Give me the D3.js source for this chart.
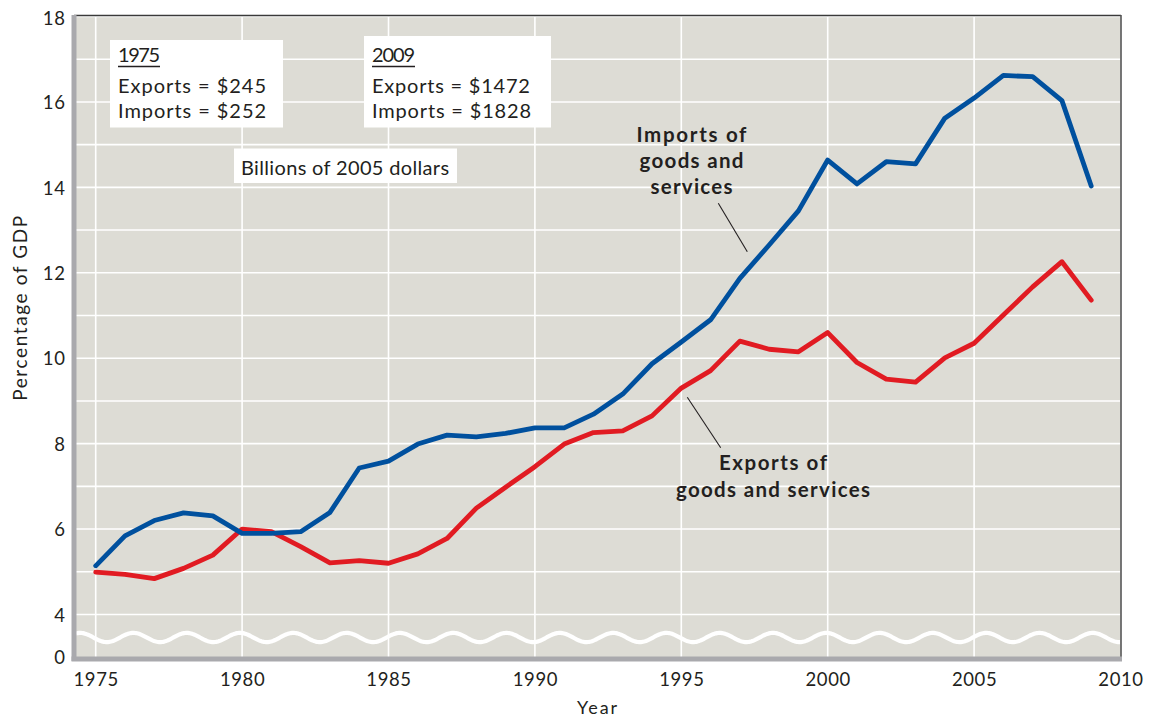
<!DOCTYPE html>
<html><head><meta charset="utf-8">
<script src="https://cdn.jsdelivr.net/npm/d3@7"></script>
<style>
html,body{margin:0;padding:0;background:#fff;}
svg{display:block;font-family:Lato,"Open Sans",sans-serif;}
</style></head>
<body>
<svg id="c" width="1149" height="718"></svg>
<script>
const years = d3.range(1975, 2010);
const imports = [5.14,5.84,6.20,6.38,6.31,5.90,5.90,5.94,6.39,7.43,7.59,7.99,8.20,8.16,8.24,8.37,8.37,8.69,9.16,9.87,10.38,10.90,11.87,12.65,13.45,14.64,14.08,14.60,14.55,15.62,16.09,16.62,16.59,16.03,14.03];
const exportsS = [4.99,4.94,4.84,5.08,5.39,6.00,5.94,5.59,5.21,5.26,5.20,5.42,5.78,6.49,6.98,7.46,7.99,8.26,8.30,8.65,9.30,9.71,10.40,10.21,10.15,10.60,9.90,9.51,9.44,10.01,10.35,11.01,11.67,12.26,11.36];
const xTicks = [1975,1980,1985,1990,1995,2000,2005,2010];
const yTicks = [0,4,6,8,10,12,14,16,18];
const yGrid = d3.range(4, 19);
const box1975 = ["1975","Exports = $245","Imports = $252"];
const box2009 = ["2009","Exports = $1472","Imports = $1828"];
const unitsNote = "Billions of 2005 dollars";
const importsLabel = ["Imports of","goods and","services"];
const exportsLabel = ["Exports of","goods and services"];

const svg = d3.select("#c");
const L = 76, R = 1120.5, T = 16, B = 659;
const x = d3.scaleLinear().domain([1975, 2010]).range([95.7, 1120.5]);
const y = d3.scaleLinear().domain([0, 4, 18]).range([659, 614.5, 16.5]);
const INK = "#231f20";

// stretch tracking so a text spans a given width
function fit(sel, target) {
  const n = sel.text().length;
  const w = sel.node().getComputedTextLength();
  if (n > 1) sel.attr("letter-spacing", ((target - w) / (n - 1)).toFixed(2));
  return sel;
}

// plot background
svg.append("rect").attr("x", L).attr("y", T).attr("width", R - L).attr("height", B - T).attr("fill", "#dddcd5");

// gridlines
svg.append("g").selectAll("line").data(yGrid).join("line")
  .attr("x1", L).attr("x2", R).attr("y1", d => y(d)).attr("y2", d => y(d))
  .attr("stroke", "#fff").attr("stroke-width", 1.6);
svg.append("g").selectAll("line").data(xTicks.slice(0, -1)).join("line")
  .attr("x1", d => x(d)).attr("x2", d => x(d)).attr("y1", T).attr("y2", B)
  .attr("stroke", "#fff").attr("stroke-width", 1.6);

// axis break wave
const wavePts = d3.range(L, R + 0.5, 1).map(px => [px, 637.5 - 4.6 * Math.cos((px - 240) / 53.3 * 2 * Math.PI)]);
svg.append("path").attr("d", d3.line()(wavePts)).attr("fill", "none").attr("stroke", "#fff").attr("stroke-width", 4.2);

// frame
svg.append("line").attr("x1", L - 2).attr("x2", R + 0.5).attr("y1", T - 0.5).attr("y2", T - 0.5).attr("stroke", "#3a3a3a").attr("stroke-width", 1.3);
svg.append("line").attr("x1", R + 0.5).attr("x2", R + 0.5).attr("y1", T - 1).attr("y2", B).attr("stroke", "#555").attr("stroke-width", 1.6);
svg.append("line").attr("x1", L - 2).attr("x2", L - 2).attr("y1", T - 1).attr("y2", B + 2).attr("stroke", "#a9a9ad").attr("stroke-width", 5);
svg.append("line").attr("x1", L - 4.5).attr("x2", R + 1.5).attr("y1", B).attr("y2", B).attr("stroke", "#a9a9ad").attr("stroke-width", 5);

// axes via d3
const yAxis = d3.axisLeft(y).tickValues(yTicks).tickSize(0).tickPadding(0).tickFormat(d3.format("d"));
const gy = svg.append("g").attr("transform", "translate(65.5,0)").call(yAxis);
gy.select(".domain").remove();
gy.selectAll("text").attr("font-size", 18.5).attr("fill", INK).attr("font-family", "Lato, sans-serif").attr("dy", "0.36em").attr("letter-spacing", 0.6);
gy.selectAll(".tick").filter(d => d === 0).attr("transform", `translate(0,${657})`);
gy.selectAll(".tick").filter(d => d === 18).attr("transform", `translate(0,${18})`);

const xAxis = d3.axisBottom(x).tickValues(xTicks).tickSize(0).tickPadding(0).tickFormat(d3.format("d"));
const gx = svg.append("g").attr("transform", "translate(0,686)").call(xAxis);
gx.select(".domain").remove();
gx.selectAll("text").attr("font-size", 18.5).attr("fill", INK).attr("font-family", "Lato, sans-serif").attr("y", 0).attr("dy", "0").attr("letter-spacing", 0.6);

// axis titles
fit(svg.append("text").attr("transform", "translate(27,307.5) rotate(-90)").attr("text-anchor", "middle")
  .attr("font-size", 19).attr("fill", INK).text("Percentage of GDP"), 185);
fit(svg.append("text").attr("x", 598).attr("y", 714).attr("text-anchor", "middle")
  .attr("font-size", 18).attr("fill", INK).text("Year"), 40);

// lines
const line = d3.line().x((d, i) => x(years[i])).y(d => y(d));
svg.append("path").datum(exportsS).attr("d", line).attr("fill", "none").attr("stroke", "#e11b22").attr("stroke-width", 4.8).attr("stroke-linejoin", "round").attr("stroke-linecap", "round");
svg.append("path").datum(imports).attr("d", line).attr("fill", "none").attr("stroke", "#00509e").attr("stroke-width", 4.8).attr("stroke-linejoin", "round").attr("stroke-linecap", "round");

// info boxes
const FS = 20;
function infoBox(lines, widths, bx, by, bw, bh, tx) {
  const g = svg.append("g");
  g.append("rect").attr("x", bx).attr("y", by).attr("width", bw).attr("height", bh).attr("fill", "#fff");
  fit(g.append("text").attr("x", tx).attr("y", 62).attr("font-size", FS).attr("fill", INK).text(lines[0]), widths[0]);
  g.append("line").attr("x1", tx).attr("x2", tx + widths[0]).attr("y1", 66.5).attr("y2", 66.5).attr("stroke", INK).attr("stroke-width", 1.3);
  fit(g.append("text").attr("x", tx).attr("y", 92.5).attr("font-size", FS).attr("fill", INK).text(lines[1]), widths[1]);
  fit(g.append("text").attr("x", tx).attr("y", 117.5).attr("font-size", FS).attr("fill", INK).text(lines[2]), widths[2]);
}
infoBox(box1975, [42, 148, 148], 110, 40, 173, 87.5, 118);
infoBox(box2009, [43, 158, 159], 364, 36, 187, 91.5, 372);

svg.append("rect").attr("x", 234).attr("y", 148.5).attr("width", 223).attr("height", 34.5).attr("fill", "#fff");
fit(svg.append("text").attr("x", 241).attr("y", 175).attr("font-size", FS).attr("fill", INK).text(unitsNote), 208);

// series labels
const ilW = [110, 104, 82];
importsLabel.forEach((s, i) => {
  const t = svg.append("text").attr("y", 142 + i * 26).attr("font-size", 20.5).attr("font-weight", "bold").attr("fill", INK).text(s);
  fit(t, ilW[i]);
  t.attr("x", 691.5 - ilW[i] / 2);
});
svg.append("line").attr("x1", 718.3).attr("y1", 203.3).attr("x2", 747.3).attr("y2", 251.7).attr("stroke", INK).attr("stroke-width", 1.1);

const elW = [108, 194];
exportsLabel.forEach((s, i) => {
  const t = svg.append("text").attr("y", 470 + i * 27).attr("font-size", 20.5).attr("font-weight", "bold").attr("fill", INK).text(s);
  fit(t, elW[i]);
  t.attr("x", 773 - elW[i] / 2);
});
svg.append("line").attr("x1", 687.3).attr("y1", 397.3).attr("x2", 720.7).attr("y2", 447.7).attr("stroke", INK).attr("stroke-width", 1.1);
</script>
</body></html>
